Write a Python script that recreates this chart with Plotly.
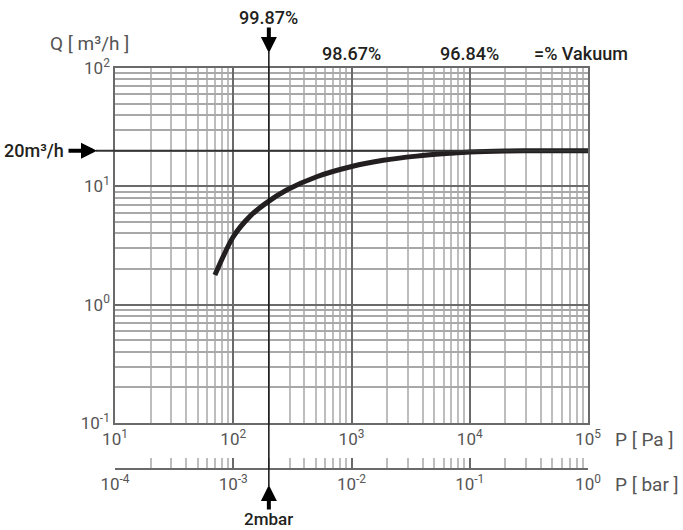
import math
import plotly.graph_objects as go

# Data
pressure_pa = [70, 100, 139, 188, 283, 508, 1004, 1858, 3556, 6808, 10000, 20000, 40000, 100000]
flow_m3h = [1.78, 3.75, 5.6, 7.18, 9.31, 12.05, 14.7, 16.6, 18.0, 19.0, 19.5, 19.9, 20.0, 20.0]

x_major = [10, 100, 1000, 10000, 100000]
x_major_text = ["10<sup>1</sup>", "10<sup>2</sup>", "10<sup>3</sup>", "10<sup>4</sup>", "10<sup>5</sup>"]
y_major = [0.1, 1, 10, 100]
y_major_text = ["10<sup>-1</sup>", "10<sup>0</sup>", "10<sup>1</sup>", "10<sup>2</sup>"]
bar_major = [1e-4, 1e-3, 1e-2, 1e-1, 1]
bar_major_text = ["10<sup>-4</sup>", "10<sup>-3</sup>", "10<sup>-2</sup>", "10<sup>-1</sup>", "10<sup>0</sup>"]
digits = [2, 3, 4, 5, 6, 7, 8, 9]
x_minor = [d * m for d in [10, 100, 1000, 10000] for m in digits]
y_minor = [d * m for d in [0.1, 1, 10] for m in digits]
bar_minor = [d * m for d in [1e-4, 1e-3, 1e-2, 1e-1] for m in digits]

nominal_flow = 20
marker_pressure = 200
vacuum_labels = ["98.67%", "96.84%"]
vacuum_positions = [1000, 10000]

FONT = "Roboto"
GRAY = "#555555"
DARK = "#231f20"

W, H = 683, 530
left, right, top, bottom_axis, bottom_plot = 115, 588, 68, 423, 469
plot_h = bottom_plot - top
def py(pix):
    return (bottom_plot - pix) / plot_h
def px(pix):
    return (pix - left) / (right - left)

fig = go.Figure()
fig.add_trace(go.Scatter(x=pressure_pa, y=flow_m3h, mode="lines",
                         line=dict(color=DARK, width=5, shape="spline", smoothing=0.8),
                         hoverinfo="skip", showlegend=False))
fig.add_trace(go.Scatter(x=[1e-4, 1], y=[None, None], xaxis="x2", yaxis="y",
                         mode="lines", showlegend=False, hoverinfo="skip"))

fig.update_layout(
    width=W, height=H,
    margin=dict(l=left, r=W - right, t=top, b=H - bottom_plot),
    paper_bgcolor="white", plot_bgcolor="white",
    font=dict(family=FONT, size=17, color=GRAY),
    xaxis=dict(type="log", range=[1, 5], anchor="y", automargin=False,
               tickmode="array", tickvals=x_major, ticktext=x_major_text,
               showgrid=True, gridcolor="#6a6a6a", gridwidth=1.5,
               showline=True, linecolor="#6a6a6a", linewidth=1.5, mirror=True,
               ticks="", zeroline=False,
               tickfont=dict(family=FONT, size=17, color=GRAY),
               minor=dict(tickmode="array", tickvals=x_minor, showgrid=True,
                          gridcolor="#bdbdbd", gridwidth=1.5, ticks="")),
    yaxis=dict(type="log", range=[-1, 2], domain=[(bottom_plot - bottom_axis) / plot_h, 1],
               automargin=False,
               tickmode="array", tickvals=y_major, ticktext=y_major_text,
               showgrid=True, gridcolor="#6a6a6a", gridwidth=1.5,
               showline=True, linecolor="#6a6a6a", linewidth=1.5, mirror=True,
               ticks="", zeroline=False,
               tickfont=dict(family=FONT, size=17, color=GRAY),
               minor=dict(tickmode="array", tickvals=y_minor, showgrid=True,
                          gridcolor="#a8a8a8", gridwidth=1.5, ticks="")),
    xaxis2=dict(type="log", range=[-4, 0], anchor="free", position=0, overlaying="x",
                automargin=False,
                tickmode="array", tickvals=bar_major, ticktext=bar_major_text,
                showgrid=False, showline=True, linecolor="#6a6a6a", linewidth=1.5,
                ticks="inside", ticklen=10, tickcolor="#6a6a6a", tickwidth=1.5,
                zeroline=False,
                tickfont=dict(family=FONT, size=17, color=GRAY),
                minor=dict(tickmode="array", tickvals=bar_minor, ticks="inside",
                           ticklen=10, tickcolor="#bdbdbd", tickwidth=1.5, showgrid=False)),
)

# Marker lines
fig.add_shape(type="line", xref="x", yref="paper", x0=marker_pressure, x1=marker_pressure,
              y0=py(486), y1=py(52), line=dict(color="#111111", width=1.5))
fig.add_shape(type="line", xref="paper", yref="y", x0=px(96), x1=1, y0=nominal_flow, y1=nominal_flow,
              line=dict(color="#333333", width=2))

lx = math.log10(marker_pressure)
ly = math.log10(nominal_flow)
ann = []
# arrows
arrow = dict(text="", showarrow=True, arrowhead=2, arrowsize=0.8, arrowwidth=4, arrowcolor="#000")
ann.append(dict(xref="x", yref="paper", x=lx, y=py(53), ax=0, ay=-27, **arrow))
ann.append(dict(xref="x", yref="paper", x=lx, y=py(485), ax=0, ay=26, **arrow))
ann.append(dict(xref="paper", yref="y", x=px(97), y=ly, ax=-30, ay=0, **arrow))
# texts
def txt(x, y, s, xref="paper", yref="paper", xanchor="center", color=DARK, weight=500, size=18):
    return dict(xref=xref, yref=yref, x=x, y=y, text=s, showarrow=False, xanchor=xanchor,
                yanchor="middle", font=dict(family=FONT, size=size, color=color, weight=weight))
ann.append(txt(lx, py(17), "99.87%", xref="x"))
ann.append(txt(lx, py(519), "2mbar", xref="x", size=17))
for s, p in zip(vacuum_labels, vacuum_positions):
    ann.append(txt(math.log10(p), py(53), s, xref="x"))
ann.append(txt(px(532), py(53), "=% Vakuum", xanchor="left"))
ann.append(dict(xref="paper", yref="y", x=px(66), y=ly, text="20m³/h", showarrow=False,
                xanchor="right", yanchor="middle", font=dict(family=FONT, size=18, color=DARK, weight=500)))
ann.append(txt(px(48), py(44), "Q [ m³/h ]", xanchor="left", color=GRAY, weight=400, size=19))
ann.append(txt(px(613), py(439), "P [ Pa ]", xanchor="left", color=GRAY, weight=400, size=19))
ann.append(txt(px(613), py(484), "P [ bar ]", xanchor="left", color=GRAY, weight=400, size=19))
fig.update_layout(annotations=ann)

fig.write_html("out.html", config={"displayModeBar": False},
               post_script="document.body.style.margin='0';document.body.style.overflow='hidden';")
